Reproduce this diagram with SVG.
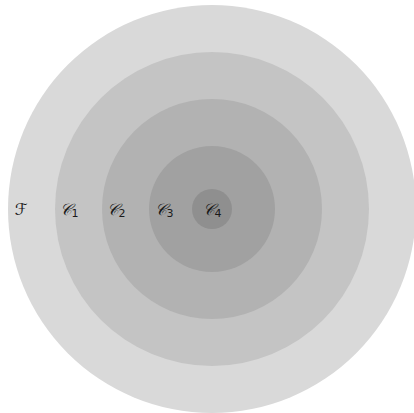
<svg xmlns="http://www.w3.org/2000/svg" width="414" height="413" viewBox="0 0 414 413">
<style>
.lbl{font-family:"DejaVu Serif","DejaVu Sans",serif;font-size:16px;font-style:italic;fill:#1a1a1a;text-anchor:middle}
.sub{font-family:"DejaVu Sans",sans-serif;font-size:11px;font-style:normal}
</style>
<rect width="414" height="413" fill="#ffffff"/>
<g id="F"><circle cx="212" cy="209" r="204" fill="#d9d9d9"/></g>
<g id="C1"><circle cx="212" cy="209" r="157" fill="#c4c4c4"/></g>
<g id="C2"><circle cx="212" cy="209" r="110" fill="#b2b2b2"/></g>
<g id="C3"><circle cx="212" cy="209" r="63" fill="#a1a1a1"/></g>
<g id="C4"><circle cx="212" cy="209" r="20" fill="#8f8f8f"/></g>
<g id="labels">
<text class="lbl" x="21" y="215">ℱ</text>
<text class="lbl" x="69" y="215">𝒞<tspan class="sub" dy="2">1</tspan></text>
<text class="lbl" x="116" y="215">𝒞<tspan class="sub" dy="2">2</tspan></text>
<text class="lbl" x="164" y="215">𝒞<tspan class="sub" dy="2">3</tspan></text>
<text class="lbl" x="212" y="215">𝒞<tspan class="sub" dy="2">4</tspan></text>
</g>
</svg>
